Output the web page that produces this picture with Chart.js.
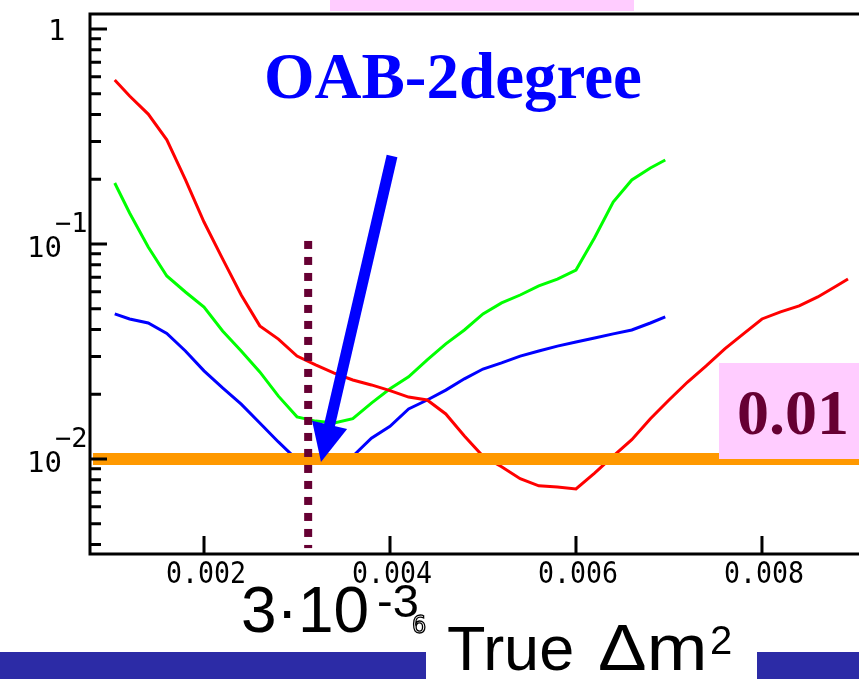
<!DOCTYPE html>
<html>
<head>
<meta charset="utf-8">
<script src="https://cdn.jsdelivr.net/npm/chart.js@4.4.1/dist/chart.umd.min.js"></script>
<style>
  html, body { margin: 0; padding: 0; background: #fff; overflow: hidden; }
  #wrap { width: 859px; height: 679px; overflow: hidden; position: relative; }
  canvas { display: block; }
</style>
</head>
<body>
<div id="wrap"><canvas id="oabChart" width="920" height="679"></canvas></div>
<script>
// true dm^2 values (x) for each curve
const xRed = [0.00104, 0.0012, 0.0014, 0.0016, 0.0018, 0.002, 0.0022, 0.0024, 0.0026, 0.0028,
    0.003, 0.0032, 0.0034, 0.0036, 0.0038, 0.004, 0.0042, 0.0044, 0.0046, 0.0048,
    0.005, 0.0052, 0.0054, 0.0056, 0.0058, 0.006, 0.0062, 0.0064, 0.0066, 0.0068,
    0.007, 0.0072, 0.0074, 0.0076, 0.0078, 0.008, 0.0082, 0.0084, 0.0086, 0.0088, 0.008925]
const redValues = [0.579, 0.488, 0.402, 0.305, 0.199, 0.1265, 0.0852, 0.0579, 0.0416, 0.0361,
    0.0301, 0.0274, 0.0251, 0.0233, 0.0221, 0.0208, 0.0194, 0.0188, 0.0162, 0.0128,
    0.0103, 0.0092, 0.0081, 0.0075, 0.0074, 0.00725, 0.0086, 0.0103, 0.0123, 0.0154,
    0.0188, 0.0228, 0.0271, 0.0325, 0.0382, 0.0448, 0.0483, 0.0515, 0.0567, 0.0638, 0.0687]

const xGreenBlue = [0.00104, 0.0012, 0.0014, 0.0016, 0.0018, 0.002, 0.0022, 0.0024, 0.0026, 0.0028,
    0.003, 0.0032, 0.0034, 0.0036, 0.0038, 0.004, 0.0042, 0.0044, 0.0046, 0.0048,
    0.005, 0.0052, 0.0054, 0.0056, 0.0058, 0.006, 0.0062, 0.0064, 0.0066, 0.0068, 0.00696]
const greenValues = [0.1922, 0.1394, 0.0968, 0.0710, 0.0598, 0.0509, 0.0394, 0.0318, 0.0254, 0.0196,
    0.0157, 0.0150, 0.0147, 0.0154, 0.0182, 0.0212, 0.0241, 0.0289, 0.0343, 0.0398,
    0.0473, 0.0532, 0.0579, 0.0638, 0.0687, 0.0757, 0.1070, 0.1568, 0.1985, 0.2257, 0.2459]
const blueValues = [0.0473, 0.0448, 0.0429, 0.0384, 0.0318, 0.0257, 0.0214, 0.0180, 0.0147, 0.0120,
    0.0099, 0.0096, 0.0097, 0.0103, 0.0125, 0.0142, 0.0171, 0.0188, 0.0209, 0.0236,
    0.0262, 0.0280, 0.0301, 0.0318, 0.0335, 0.0350, 0.0365, 0.0382, 0.0398, 0.0429, 0.0458]

const xTicks = [0.002, 0.004, 0.006, 0.008]
const xTickLabels = ['0.002', '0.004', '0.006', '0.008']
const yMajorTicks = [1, 0.1, 0.01]
const yMajorExp = ['', '\u22121', '\u22122']

const cutLevel = 0.01
const markerX = 0.00312
const markerRange = [0.1033, 0.00385]
const arrowFrom = [0.004022, 0.2566]
const arrowTo = [0.003258, 0.00969]

const toPoints = (xs, ys) => xs.map((x, i) => ({ x: x, y: ys[i] }))

const overlay = {
    id: 'overlay',
    afterDraw(chart) {
        const ctx = chart.ctx
        const xs = chart.scales.x
        const ys = chart.scales.y
        const area = chart.chartArea
        ctx.save()

        // pink strip at top
        ctx.fillStyle = '#ffccff'
        ctx.fillRect(330, 0, 304, 11)

        // frame
        ctx.strokeStyle = '#000'
        ctx.lineWidth = 3
        ctx.beginPath()
        ctx.moveTo(area.right + 20, area.top)
        ctx.lineTo(area.left, area.top)
        ctx.lineTo(area.left, area.bottom)
        ctx.lineTo(area.right + 20, area.bottom)
        ctx.stroke()

        // y ticks (log)
        ctx.beginPath()
        yMajorTicks.forEach(v => {
            const py = ys.getPixelForValue(v)
            ctx.moveTo(area.left, py)
            ctx.lineTo(area.left + 17, py)
            for (let k = 2; k <= 9; k++) {
                const mv = v * k / 10
                if (mv < ys.min) continue
                const my = ys.getPixelForValue(mv)
                ctx.moveTo(area.left, my)
                ctx.lineTo(area.left + 11, my)
            }
        })
        // x ticks
        xTicks.forEach(v => {
            const px = xs.getPixelForValue(v)
            ctx.moveTo(px, area.bottom)
            ctx.lineTo(px, area.bottom - 18)
        })
        ctx.stroke()

        // tick labels
        ctx.fillStyle = '#000'
        ctx.textAlign = 'center'
        ctx.textBaseline = 'alphabetic'
        xTicks.forEach((v, i) => {
            ctx.save()
            ctx.translate(xs.getPixelForValue(v) + 2, 583)
            ctx.scale(0.95, 1.1)
            ctx.font = '28px "DejaVu Sans Mono"'
            ctx.fillText(xTickLabels[i], 0, 0)
            ctx.restore()
        })
        ctx.textAlign = 'left'
        yMajorTicks.forEach((v, i) => {
            const py = ys.getPixelForValue(v)
            ctx.font = '29px "DejaVu Sans Mono"'
            if (yMajorExp[i] === '') {
                ctx.fillText('1', 48, py + 11)
            } else {
                ctx.fillText('10', 27, py + 13)
                ctx.font = '27px "DejaVu Sans Mono"'
                ctx.fillText(yMajorExp[i], 55, py - 12)
            }
        })

        // title
        ctx.fillStyle = '#0000ff'
        ctx.font = 'bold 65px "Liberation Serif"'
        ctx.fillText('OAB-2degree', 264, 98)

        // arrow
        const tx = xs.getPixelForValue(arrowFrom[0]), ty = ys.getPixelForValue(arrowFrom[1])
        const hx = xs.getPixelForValue(arrowTo[0]), hy = ys.getPixelForValue(arrowTo[1])
        const len = Math.hypot(hx - tx, hy - ty)
        const dx = (hx - tx) / len, dy = (hy - ty) / len
        const headLen = 38, headHalf = 18
        const bx = hx - dx * headLen, by = hy - dy * headLen
        ctx.strokeStyle = '#0000ff'
        ctx.lineWidth = 11
        ctx.lineCap = 'butt'
        ctx.beginPath()
        ctx.moveTo(tx, ty)
        ctx.lineTo(bx + dx * 2, by + dy * 2)
        ctx.stroke()
        ctx.beginPath()
        ctx.moveTo(hx, hy)
        ctx.lineTo(bx - dy * headHalf, by + dx * headHalf)
        ctx.lineTo(bx + dy * headHalf, by - dx * headHalf)
        ctx.closePath()
        ctx.fill()

        // 0.01 label box
        ctx.fillStyle = '#ffccff'
        ctx.fillRect(719, 363, 160, 96)
        ctx.fillStyle = '#660033'
        ctx.font = 'bold 64px "Liberation Serif"'
        ctx.fillText('0.01', 737, 434)

        // bottom annotations
        ctx.fillStyle = '#000'
        ctx.font = '64px "Liberation Sans"'
        ctx.fillText('3\u00b710', 241, 632)
        ctx.font = '47px "Liberation Sans"'
        ctx.fillText('-3', 377, 617)
        ctx.strokeStyle = '#000'
        ctx.lineWidth = 1.3
        ctx.font = '24px "DejaVu Sans Mono"'
        ctx.strokeText('6', 412, 633)

        ctx.fillStyle = '#2c2ba6'
        ctx.fillRect(0, 652, 426, 27)
        ctx.fillRect(757, 652, 163, 27)

        ctx.fillStyle = '#000'
        ctx.font = '63px "Liberation Sans"'
        ctx.fillText('True', 447, 670)
        ctx.save()
        ctx.translate(598, 670)
        ctx.scale(1.12, 1)
        ctx.font = '65px "Liberation Sans"'
        ctx.fillText('\u0394m', 0, 0)
        ctx.restore()
        ctx.font = '40px "Liberation Sans"'
        ctx.fillText('2', 710, 654)

        ctx.restore()
    }
}

const oabChart = new Chart(document.getElementById('oabChart'), {
    type: 'line',
    data: {
        datasets: [
            {
                label: 'marker',
                data: [{ x: markerX, y: markerRange[0] }, { x: markerX, y: markerRange[1] }],
                borderColor: '#660033',
                borderWidth: 8,
                borderDash: [8, 8],
                borderCapStyle: 'butt'
            },
            {
                label: 'cut',
                data: [{ x: 0.000806, y: cutLevel }, { x: 0.0095, y: cutLevel }],
                borderColor: '#ff9900',
                borderWidth: 12,
                borderCapStyle: 'butt'
            },
            {
                label: 'red',
                data: toPoints(xRed, redValues),
                borderColor: '#ff0000',
                borderWidth: 3
            },
            {
                label: 'green',
                data: toPoints(xGreenBlue, greenValues),
                borderColor: '#00ff00',
                borderWidth: 3
            },
            {
                label: 'blue',
                data: toPoints(xGreenBlue, blueValues),
                borderColor: '#0000ff',
                borderWidth: 3
            }
        ]
    },
    options: {
        responsive: false,
        animation: false,
        layout: { padding: { left: 90, top: 14, right: 15, bottom: 125 } },
        elements: { point: { radius: 0 }, line: { tension: 0, fill: false } },
        scales: {
            x: { type: 'linear', min: 0.000774, max: 0.009538, display: false },
            y: { type: 'logarithmic', min: 0.003614, max: 1.1743, display: false }
        },
        plugins: {
            legend: { display: false },
            tooltip: { enabled: false }
        }
    },
    plugins: [overlay]
});
</script>
</body>
</html>
